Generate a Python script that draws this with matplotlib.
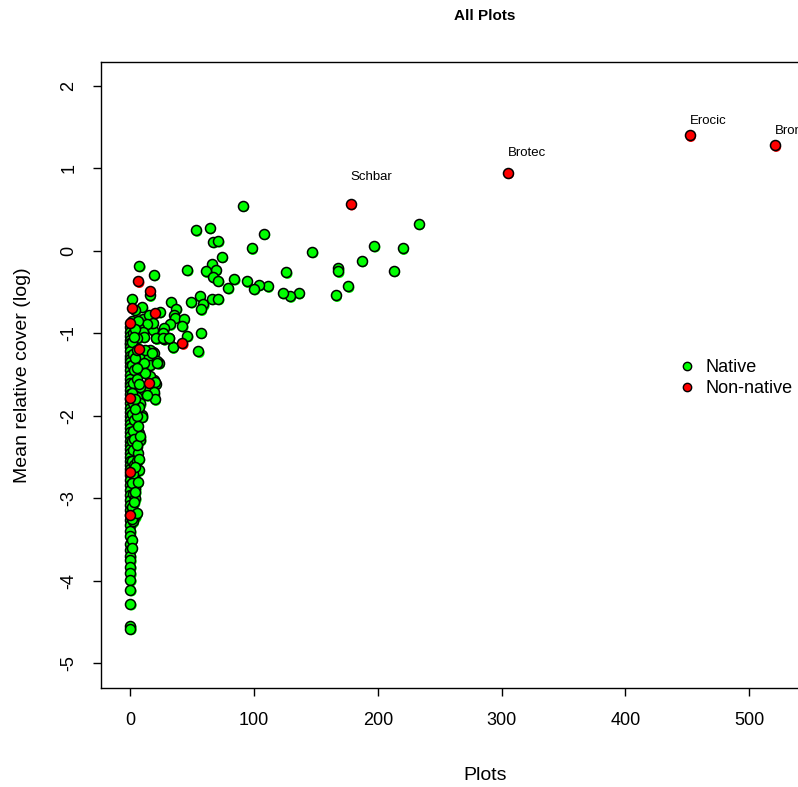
import matplotlib
matplotlib.use("Agg")
import matplotlib.pyplot as plt
from matplotlib.lines import Line2D
from matplotlib.transforms import offset_copy

plt.rcParams['font.family'] = ['Liberation Sans', 'DejaVu Sans']
plt.rcParams['axes.unicode_minus'] = False

# native species: plots occupied vs mean relative cover (log)
native_x = [91, 233, 53, 64, 67, 71, 108, 98, 147, 197, 220, 187, 213, 168, 168,
            126, 176, 166, 136, 129, 123, 111, 104, 100, 94, 84, 79, 74, 66, 69,
            61, 67, 71, 46, 19, 56, 59, 57, 49, 66, 71, 33, 37, 35, 36, 43, 42,
            46, 57, 55, 34, 32, 23.5, 15.6, 27, 26.5, 27, 20.5, 31, 18, 13.5, 23,
            18, 17.6, 7.3, 1, 9.5, 4,
            10.3, 14.8, 18, 13, 6.7, 10, 2, 21, 26.5, 31, 16, 18.7, 13.5, 16, 21.6,
            10.8, 5.4, 3, 0, 6.7, 5.4, 9.5, 12, 16, 18.9, 20.3, 13.5, 18.9, 6.7,
            5.4, 8, 9.5,
            17.6, 21.6, 16.2, 20, 19, 19.7, 13.5, 9.5, 6.7, 8, 10.8, 12, 8, 6.7, 2.7,
            5.4, 6.7, 4, 4, 4, 2.7,
            0, 0, 0, 0, 0, 0, 0, 0, 0, 0, 0, 0, 0, 0, 0, 0, 0, 0, 0, 0,
            0, 0, 0, 0, 0, 0, 0, 0, 0, 0, 0, 0, 0, 0, 0, 0, 0, 0, 0, 0,
            0, 0, 0, 0, 0, 0, 0, 0, 0, 0, 0, 0, 0, 0, 0, 0, 0, 0, 0, 0,
            1, 2, 1, 2, 1, 3, 2, 1, 2, 1, 3, 2, 1, 2, 1, 3, 2, 1, 2, 1, 2, 1, 1, 1,
            4, 5, 4, 5, 6, 5, 4, 5, 6, 4,
            3, 5, 7, 4, 6, 3, 5, 7, 4, 6, 8, 3, 5, 4]
native_y = [0.55, 0.33, 0.25, 0.28, 0.11, 0.12, 0.21, 0.03, -0.01, 0.06, 0.03, -0.12,
            -0.24, -0.21, -0.25, -0.26, -0.43, -0.54, -0.51, -0.55, -0.51, -0.43,
            -0.41, -0.46, -0.37, -0.34, -0.45, -0.07, -0.16, -0.23, -0.25, -0.32,
            -0.36, -0.23, -0.29, -0.55, -0.65, -0.71, -0.62, -0.58, -0.58, -0.62,
            -0.70, -0.78, -0.81, -0.83, -0.91, -1.03, -0.99, -1.22, -1.17, -0.89,
            -0.74, -0.54, -0.93, -0.99, -1.07, -1.06, -1.06, -1.23, -1.30, -1.36,
            -0.96, -0.87, -0.18, -0.58, -0.68, -0.72,
            -0.82, -0.78, -0.87, -0.89, -0.93, -0.98, -0.96, -1.06, -1.06, -1.06,
            -1.20, -1.24, -1.31, -1.38, -1.34, -1.04, -1.06, -1.15, -1.13, -1.28,
            -1.36, -1.42, -1.20, -1.55, -1.57, -1.61, -1.69, -1.73, -1.69, -1.77,
            -1.85, -1.99,
            -1.24, -1.36, -1.52, -1.59, -1.71, -1.80, -1.75, -2.01, -2.21, -2.29,
            -1.36, -1.48, -1.65, -1.89, -2.13,
            -2.37, -2.66, -2.76, -2.88, -3.22, -2.48,
            -0.92, -0.98, -1.03, -1.08, -1.12, -1.17, -1.22, -1.27, -1.31, -1.35,
            -1.40, -1.45, -1.50, -1.55, -1.60, -1.64, -1.69, -1.74, -1.79, -1.85,
            -1.90, -1.95, -2.00, -2.05, -2.10, -2.15, -2.20, -2.25, -2.30, -2.35,
            -2.40, -2.45, -2.50, -2.55, -2.60, -2.65, -2.72, -2.78, -2.84, -2.90,
            -2.96, -3.02, -3.08, -3.14, -3.20, -3.26, -3.32, -3.40, -3.46, -3.55,
            -3.63, -3.70, -3.75, -3.83, -3.91, -3.99, -4.11, -4.28, -4.55, -4.58,
            -0.85, -1.00, -1.10, -1.25, -1.38, -1.45, -1.60, -1.72, -1.85, -1.98,
            -2.05, -2.18, -2.30, -2.42, -2.55, -2.60, -2.70, -2.82, -2.95, -3.10,
            -3.28, -3.50, -3.60, -3.25,
            -1.30, -1.55, -1.80, -2.00, -2.45, -2.55, -3.00, -1.20, -0.85, -0.95,
            -1.05, -1.42, -1.62, -1.92, -2.12, -2.28, -2.35, -2.52, -2.62, -2.80,
            -2.25, -3.05, -3.18, -2.92]

# non-native species
nonnative_x = [178, 305, 452, 521, 6.3, 15.6, 19.5, 1, 0, 6.6, 42, 14.8, 0, 0, 0]
nonnative_y = [0.57, 0.95, 1.40, 1.28, -0.37, -0.49, -0.75, -0.69, -0.88, -1.19,
               -1.12, -1.60, -1.78, -2.68, -3.20]

# labelled species (label position)
label_names = ["Schbar", "Brotec", "Erocic", "Bromad"]
label_x = [178, 305, 452, 521]
label_y = [0.89, 1.19, 1.58, 1.45]

fig = plt.figure(figsize=(7.98, 7.87), dpi=100)
ax = fig.add_axes([101 / 798, 1 - 688 / 787, 768 / 798, 626 / 787])

shadow = offset_copy(ax.transData, fig=fig, x=1.2, y=-1.6, units='dots')
for xs, ys, c in [(native_x, native_y, '#00ff00'), (nonnative_x, nonnative_y, '#ff0000')]:
    ax.scatter(xs, ys, s=52, c=c, edgecolors='none', transform=shadow, zorder=2)
    ax.scatter(xs, ys, s=52, c=c, edgecolors='black', linewidths=1.1, zorder=3)

for name, lx, ly in zip(label_names, label_x, label_y):
    ax.text(lx, ly, name, fontsize=9.5, ha='left', va='center')

ax.set_xlim(-23.8, 597)
ax.set_ylim(-5.3, 2.29)
ax.set_xticks([0, 100, 200, 300, 400, 500])
ax.set_yticks([-5, -4, -3, -2, -1, 0, 1, 2])
ax.tick_params(direction='out', length=6, width=1, labelsize=13, pad=11)
for lab in ax.get_yticklabels():
    lab.set_rotation(90)
    lab.set_va('center')
for s in ax.spines.values():
    s.set_linewidth(1)

ax.set_xlabel("Plots", fontsize=14, labelpad=28)
ax.set_ylabel("Mean relative cover (log)", fontsize=14, labelpad=21)
ax.set_title("All Plots", fontsize=11, fontweight='bold', pad=30,
             family=['Liberation Sans Narrow', 'Liberation Sans', 'DejaVu Sans'])

handles = [Line2D([], [], marker='o', linestyle='none', markersize=6,
                  markerfacecolor=c, markeredgecolor='black', markeredgewidth=1)
           for c in ['#00ff00', '#ff0000']]
ax.legend(handles, ["Native", "Non-native"], loc='center left',
          bbox_to_anchor=(0.754, 0.495), frameon=False, fontsize=13,
          handlelength=0.8, handletextpad=0.6, labelspacing=0.2,
          borderpad=0, borderaxespad=0)

fig.savefig("out.png", dpi=100)
